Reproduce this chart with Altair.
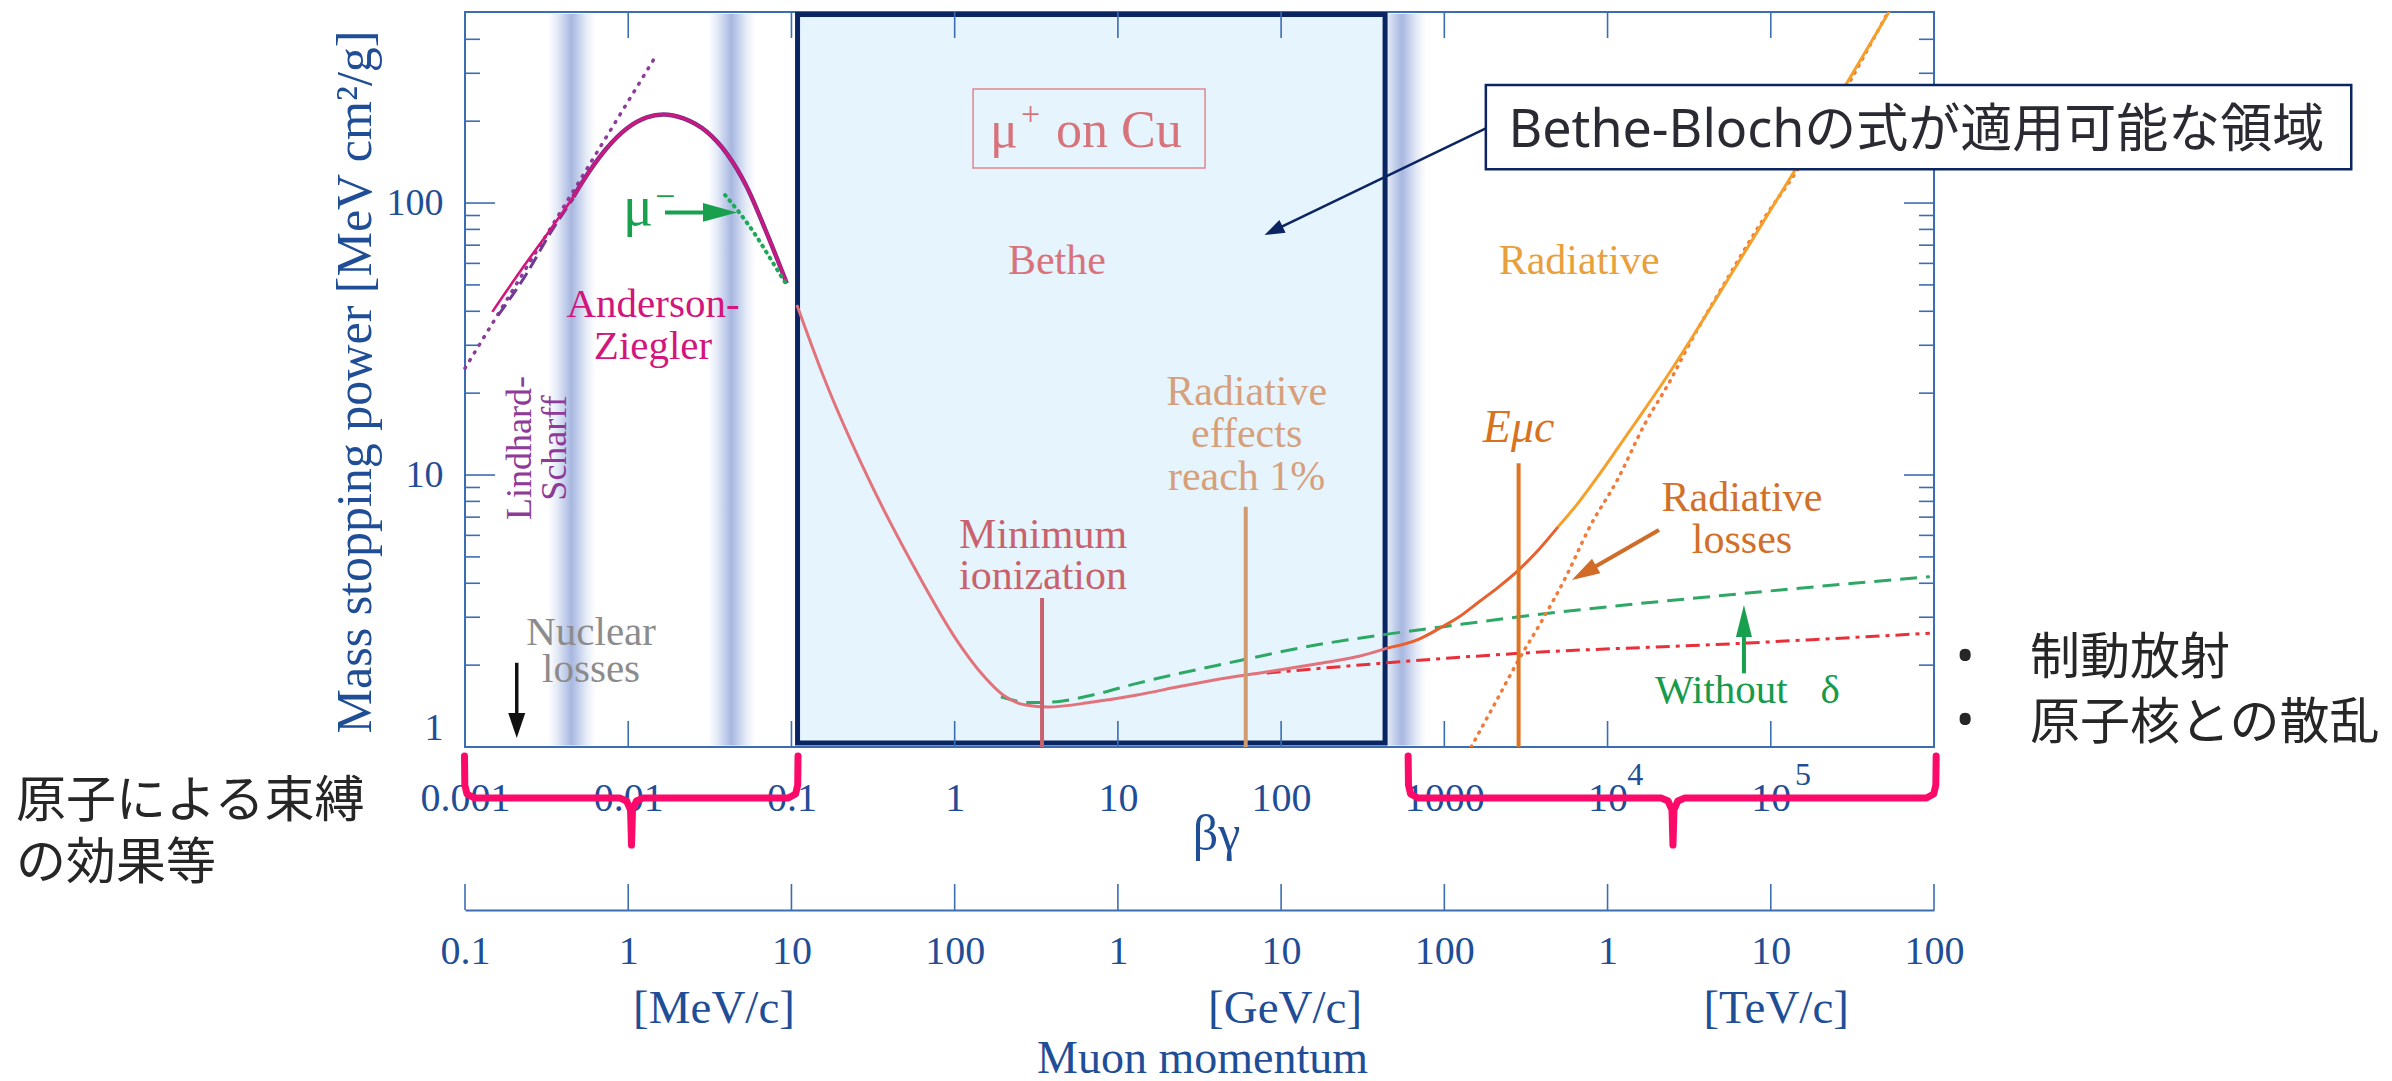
import math
import altair as alt
import pandas as pd

SERIF = "Liberation Serif"
CJK = "Noto Sans CJK JP"
SANSJ = "Noto Sans, Noto Sans CJK JP"
BLUE = "#1f4e97"
FRAME = "#3b6db3"
NAVY = "#0b2462"

W, H = 1469, 735
xs = alt.Scale(type="log", domain=[1e-3, 1e6], nice=False)
ys = alt.Scale(type="log", domain=[1.0, 504.0], nice=False)

# ---------------- data: beta*gamma and mass stopping power ----------------
AZ_BG = [0.00147, 0.00228, 0.00332, 0.00461, 0.00584, 0.00738, 0.0098, 0.01298, 0.0164, 0.0218, 0.0303, 0.0402, 0.0532, 0.0706, 0.0936]
AZ_S = [39.8, 58.3, 79.6, 105.5, 132, 159, 188, 206.6, 211.8, 204.8, 182.8, 152, 114.8, 77.5, 50.7]
LS_BG = [0.0016, 0.00239, 0.00332, 0.00461]
LS_S = [38.7, 55.1, 77.3, 104]
LSD_BG = [0.001, 0.01426]
LSD_S = [24.7, 335.6]
MUM_BG = [0.0392, 0.0484, 0.0612, 0.0774, 0.0936]
MUM_S = [107, 91.6, 75.2, 60, 50]
BETHE_BG = [0.108, 0.16, 0.299, 0.564, 1.058, 1.452, 1.98, 2.72, 3.73, 7.0, 13.1, 24.7, 46, 86.9, 163.7, 305, 446]
BETHE_S = [42.2, 22.4, 9.59, 4.59, 2.41, 1.87, 1.553, 1.426, 1.403, 1.463, 1.553, 1.675, 1.794, 1.90, 2.02, 2.16, 2.31]
TOT1_BG = [446, 706, 933, 1233, 1633, 2155, 2849, 3768, 4977]
TOT1_S = [2.31, 2.50, 2.73, 3.01, 3.42, 3.88, 4.47, 5.3, 6.45]
TOT2_BG = [4977, 6577, 8690, 11480, 15170, 22430, 64700, 153500, 531000]
TOT2_S = [6.45, 7.87, 9.86, 12.5, 15.9, 22.4, 61.7, 144, 505]
RAD_BG = [1459, 2042, 2851, 3983, 5564, 7780, 11480, 17000, 24380, 30300, 52100, 89500, 137800, 516000]
RAD_S = [1.0, 1.446, 2.09, 2.93, 4.23, 6.45, 9.59, 15.5, 22.4, 28.8, 50.7, 86.6, 126, 496]
NOD_BG = [1.92, 2.9, 4.23, 7.0, 13.1, 46.2, 163, 447, 989, 2850, 68500, 942000]
NOD_S = [1.53, 1.456, 1.468, 1.553, 1.714, 2.03, 2.37, 2.60, 2.77, 3.01, 3.67, 4.23]
ION_BG = [81.6, 447, 2851, 61400, 942000]
ION_S = [1.87, 2.04, 2.21, 2.40, 2.62]

# marker lines (beta*gamma, top value)
MIN_ION = (3.43, 3.53)
RAD_1PCT = (60.7, 7.65)
E_MUC = (2851, 11.04)

# shaded bands (beta*gamma ranges)
BANDS = [(0.00323, 0.00626), (0.03083, 0.05983), (392, 770)]
BETHE_BOX = (0.109, 433.5, 1.034, 493)
MU_BOX = (1.296, 34.2, 134.5, 262.5)
CALLOUT_BOX = (1796, 3.6e8, 133.0, 271.6)

# axis ticks
X_DECADES = [0.01, 0.1, 1, 10, 100, 1000, 1e4, 1e5]
X_LABELS = [0.001, 0.01, 0.1, 1, 10, 100, 1000, 1e4, 1e5]
Y_MAJOR = [10, 100]
Y_MINOR = [2, 3, 4, 5, 6, 7, 8, 9, 20, 30, 40, 50, 60, 70, 80, 90, 200, 300, 400]
M_TICKS = [0.001, 0.01, 0.1, 1, 10, 100, 1000, 1e4, 1e5, 1e6]

# bracket spans (start, end, centre) in beta*gamma
BRACKETS = [(0.000993, 0.10975, 0.010477), (600.2, 1.031e6, 25160)]
BRK_S = [0.927, 0.725, 0.672, 0.649, 0.649, 0.633, 0.587, 0.436, 0.587, 0.633, 0.649, 0.649, 0.672, 0.725, 0.927]


def X(axis=None):
    return alt.X("bg:Q", scale=xs, axis=axis)


def Y(axis=None):
    return alt.Y("S:Q", scale=ys, axis=axis)


def curve(bg, S, color, width=3.0, dash=None, cap="butt", clip=False, interp="monotone", ordered=False):
    props = dict(color=color, strokeWidth=width, clip=clip, interpolate=interp, strokeCap=cap, strokeJoin="round")
    if dash is not None:
        props["strokeDash"] = dash
    enc = dict(x=X(), y=Y())
    if ordered:
        enc["order"] = alt.Order("i:Q")
    d = pd.DataFrame({"bg": bg, "S": S, "i": list(range(len(bg)))})
    return alt.Chart(d).mark_line(**props).encode(**enc)


def label(bg, S, txt, color, size, align="center", baseline="alphabetic", angle=0, lh=None, font=SERIF, style="normal"):
    props = dict(color=color, fontSize=size, align=align, baseline=baseline, font=font, fontStyle=style, lineBreak="\n")
    if angle:
        props["angle"] = angle
    if lh:
        props["lineHeight"] = lh
    d = pd.DataFrame({"bg": [bg], "S": [S], "t": [txt]})
    return alt.Chart(d).mark_text(**props).encode(x=X(), y=Y(), text="t:N")


def box(b, fill, stroke, sw, fill_op=1.0):
    d = pd.DataFrame({"bg": [b[0]], "bg2": [b[1]], "S": [b[2]], "S2": [b[3]]})
    return alt.Chart(d).mark_rect(fill=fill, fillOpacity=fill_op, stroke=stroke, strokeWidth=sw).encode(
        x=X(), x2="bg2:Q", y=Y(), y2="S2:Q")


def head(bg, S, ratio, length, angle, color):
    path = "M-1,-%.2fL1,0L-1,%.2fZ" % (ratio, ratio)
    d = pd.DataFrame({"bg": [bg], "S": [S]})
    return alt.Chart(d).mark_point(shape=path, size=length * length, angle=angle, filled=True,
                                   color=color, opacity=1, strokeWidth=0).encode(x=X(), y=Y())


layers = []

# gradient bands
grad = {"gradient": "linear", "x1": 0, "x2": 1, "y1": 0, "y2": 0,
        "stops": [{"offset": 0, "color": "#ffffff"}, {"offset": 0.2, "color": "#e3e9f6"},
                  {"offset": 0.4, "color": "#bac7e8"}, {"offset": 0.5, "color": "#a8b7df"},
                  {"offset": 0.6, "color": "#bac7e8"}, {"offset": 0.8, "color": "#e3e9f6"},
                  {"offset": 1, "color": "#ffffff"}]}
band_df = pd.DataFrame({"bg": [b[0] for b in BANDS], "bg2": [b[1] for b in BANDS],
                        "S": [1.012] * 3, "S2": [497.0] * 3})
layers.append(alt.Chart(band_df).mark_rect(color=grad).encode(x=X(), x2="bg2:Q", y=Y(), y2="S2:Q"))

# Bethe region box
layers.append(box(BETHE_BOX, "#e6f5fd", NAVY, 5))
layers.append(box(MU_BOX, "#ffffff", "#e0868e", 1.5, fill_op=0))

# ---------------- axes + ticks ----------------
x_label_expr = ("datum.value < 0.005 ? '0.001' : datum.value < 0.05 ? '0.01' : datum.value < 0.5 ? '0.1' : "
                "datum.value < 5 ? '1' : datum.value < 50 ? '10' : datum.value < 500 ? '100' : "
                "datum.value < 5000 ? '1000' : '10'")
AX_MAIN = alt.Axis(orient="bottom", values=X_LABELS, labelExpr=x_label_expr, domain=False, ticks=False,
                   tickSize=0, grid=False, labelFont=SERIF, labelFontSize=40, labelColor=BLUE,
                   labelPadding=31, labelFlush=False, labelOverlap=False,
                   title="βγ", titleFont=SERIF, titleFontSize=50, titleFontWeight="normal",
                   titleColor=BLUE, titleX=751, titleY=102, titleAlign="center",
                   titleBaseline="alphabetic", titleAngle=0)
AY_MAIN = alt.Axis(orient="left", values=[1, 10, 100],
                   labelExpr="datum.value < 5 ? '1' : datum.value < 50 ? '10' : '100'",
                   domain=False, ticks=False, tickSize=0, grid=False, labelFont=SERIF, labelFontSize=38,
                   labelColor=BLUE, labelPadding=22, labelFlush=True,
                   title="Mass stopping power [MeV cm²/g]", titleFont=SERIF, titleFontSize=50,
                   titleFontWeight="normal", titleColor=BLUE, titleX=-95, titleY=369.5, titleAngle=270,
                   titleAlign="center", titleBaseline="alphabetic")

xt = pd.DataFrame({"bg": X_DECADES})
layers.append(alt.Chart(xt).mark_rule(color=FRAME, strokeWidth=1.6).encode(
    x=X(AX_MAIN), y=alt.value(H), y2=alt.value(H - 26)))
layers.append(alt.Chart(xt).mark_rule(color=FRAME, strokeWidth=1.6).encode(
    x=X(), y=alt.value(0), y2=alt.value(26)))
ymaj = pd.DataFrame({"S": Y_MAJOR})
ymin = pd.DataFrame({"S": Y_MINOR})
layers.append(alt.Chart(ymaj).mark_rule(color=FRAME, strokeWidth=1.6).encode(
    y=Y(AY_MAIN), x=alt.value(0), x2=alt.value(30)))
layers.append(alt.Chart(ymaj).mark_rule(color=FRAME, strokeWidth=1.6).encode(
    y=Y(), x=alt.value(W), x2=alt.value(W - 30)))
layers.append(alt.Chart(ymin).mark_rule(color=FRAME, strokeWidth=1.6).encode(
    y=Y(), x=alt.value(0), x2=alt.value(15)))
layers.append(alt.Chart(ymin).mark_rule(color=FRAME, strokeWidth=1.6).encode(
    y=Y(), x=alt.value(W), x2=alt.value(W - 15)))

# momentum axis (same positions, momentum labels), ticks pointing up
m_label_expr = ("datum.value < 0.005 ? '0.1' : datum.value < 0.05 ? '1' : datum.value < 0.5 ? '10' : "
                "datum.value < 5 ? '100' : datum.value < 50 ? '1' : datum.value < 500 ? '10' : "
                "datum.value < 5000 ? '100' : datum.value < 50000 ? '1' : datum.value < 500000 ? '10' : '100'")
AX_MOM = alt.Axis(orient="bottom", offset=163, values=M_TICKS, labelExpr=m_label_expr, domain=True,
                  domainColor=FRAME, domainWidth=2, ticks=False, tickSize=0, grid=False, labelFont=SERIF,
                  labelFontSize=40, labelColor=BLUE, labelPadding=21, labelFlush=False, labelOverlap=False,
                  title=None)
layers.append(alt.Chart(pd.DataFrame({"bg": M_TICKS})).mark_rule(color=FRAME, strokeWidth=1.6).encode(
    x=X(AX_MOM), y=alt.value(H + 137), y2=alt.value(H + 163)))

# ---------------- curves ----------------
layers.append(curve(LSD_BG, LSD_S, "#8b3d99", 3.5, dash=[1, 8], cap="round", interp="linear"))
layers.append(curve(LS_BG, LS_S, "#6f3a95", 3, dash=[13, 6]))
layers.append(curve(AZ_BG[3:], AZ_S[3:], "#7b2f8e", 4.5))
layers.append(curve(AZ_BG, AZ_S, "#d2167c", 2.6))
layers.append(curve(MUM_BG, MUM_S, "#1fa85a", 4, dash=[1, 6], cap="round"))
layers.append(curve(NOD_BG, NOD_S, "#2ea865", 3, dash=[17, 9]))
layers.append(curve(ION_BG, ION_S, "#e8303a", 3, dash=[14, 6, 4, 6]))
layers.append(curve(BETHE_BG, BETHE_S, "#e2737c", 3))
layers.append(curve(TOT1_BG, TOT1_S, "#e9602e", 3))
layers.append(curve(RAD_BG, RAD_S, "#f07b3a", 3.5, dash=[1, 7], cap="round", clip=True))
layers.append(curve(TOT2_BG, TOT2_S, "#f5a02a", 3, clip=True))

# vertical marker lines
for (bgv, top), col in [(MIN_ION, "#c9626e"), (RAD_1PCT, "#d09a6e"), (E_MUC, "#dc7424")]:
    layers.append(curve([bgv, bgv], [1.0, top], col, 4, interp="linear", ordered=True))

# ---------------- arrows ----------------
GREEN = "#19a04f"
layers.append(curve([0.0168, 0.03651], [92.4, 92.4], GREEN, 4, interp="linear"))
layers.append(head(0.03651, 92.4, 0.55, 34, 0, GREEN))
layers.append(curve([0.002075, 0.002075], [2.04, 1.2], "#111111", 3.5, interp="linear", ordered=True))
layers.append(head(0.002075, 1.2, 0.68, 25, 90, "#111111"))
layers.append(curve([68500, 68500], [1.866, 2.905], GREEN, 4, interp="linear", ordered=True))
layers.append(head(68500, 2.905, 0.5, 32, 270, GREEN))
layers.append(curve([20650, 7178], [6.28, 4.363], "#d06c28", 4, interp="linear", ordered=True))
layers.append(head(7178, 4.363, 0.6, 28, 150, "#d06c28"))

# ---------------- annotation texts ----------------
PINK = "#d8737b"
layers += [
    label(0.00929, 83.0, "μ", GREEN, 56, align="left"),
    label(0.01460, 105.5, "−", GREEN, 36, align="left", baseline="middle"),
    label(0.01419, 38.1, "Anderson-\nZiegler", "#d2167c", 41, lh=42),
    label(0.00217, 12.57, "Lindhard-\nScharff", "#8e3a98", 36, baseline="middle", angle=270, lh=35),
    label(0.00592, 2.37, "Nuclear\nlosses", "#8c8c8c", 41, lh=37),
    label(4.23, 54.8, "Bethe", PINK, 42),
    label(1.648, 161, "μ", PINK, 52, align="left"),
    label(2.553, 210.7, "+", PINK, 34, align="left", baseline="middle"),
    label(4.18, 161, "on Cu", PINK, 52, align="left"),
    label(6700, 54.8, "Radiative", "#e8a03c", 42),
    label(61.5, 18.1, "Radiative\neffects\nreach 1%", "#d6a07c", 42, lh=42.5),
    label(3.48, 5.38, "Minimum\nionization", "#c9626e", 42, lh=41),
    label(2851, 13.26, "Eμc", "#d9721f", 46, style="italic"),
    label(66600, 7.39, "Radiative\nlosses", "#d2702a", 42, lh=42.7),
    label(19520, 1.448, "Without", "#169a4c", 41, align="left"),
    label(231000, 1.448, "δ", "#169a4c", 41),
    label(14760, 0.725, "4", BLUE, 32),
    label(157500, 0.725, "5", BLUE, 32),
    label(0.03355, 0.0966, "[MeV/c]", BLUE, 47),
    label(105.8, 0.0966, "[GeV/c]", BLUE, 47),
    label(107900, 0.0966, "[TeV/c]", BLUE, 47),
    label(33.0, 0.0633, "Muon momentum", BLUE, 46),
]

# ---------------- callout ----------------
layers.append(curve([1796, 89.85], [188.2, 79.1], NAVY, 2.5, interp="linear", ordered=True))
layers.append(head(89.85, 79.1, 0.7, 20, 154, NAVY))
layers.append(box(CALLOUT_BOX, "#ffffff", NAVY, 2.5))
layers.append(label(2472, 160.3, "Bethe-Blochの式が適用可能な領域", "#2a2a33", 52, align="left", font=SANSJ))

# ---------------- brackets ----------------
OFF = [0, 0.002, 0.015, 0.06, -0.07, -0.03, -0.006, 0, 0.006, 0.03, 0.07, -0.06, -0.015, -0.002, 0]
for a, b, c in BRACKETS:
    la, lb, lc = math.log10(a), math.log10(b), math.log10(c)
    base = [la] * 4 + [lc] * 7 + [lb] * 4
    bx = [10 ** (base[k] + OFF[k]) for k in range(15)]
    layers.append(curve(bx, BRK_S, "#fb0a6a", 7, interp="linear", ordered=True, cap="round"))

# ---------------- Japanese side notes ----------------
DARK = "#262626"
layers += [
    label(1.774e-6, 0.553, "原子による束縛\nの効果等", DARK, 50, align="left", lh=62, font=CJK),
    label(1.552e6, 2.124, "•", DARK, 50, baseline="middle", font=SANSJ),
    label(1.552e6, 1.236, "•", DARK, 50, baseline="middle", font=SANSJ),
    label(3.88e6, 1.855, "制動放射", DARK, 50, align="left", font=CJK),
    label(3.88e6, 1.07, "原子核との散乱", DARK, 50, align="left", font=CJK),
]

chart = alt.layer(*layers).resolve_axis(x="independent", y="independent").properties(
    width=W, height=H,
    padding={"left": 457, "top": 4, "right": 450, "bottom": 338},
    autosize=alt.AutoSizeParams(type="none"),
).configure_view(stroke=FRAME, strokeWidth=2)

chart.save("out.html", embed_options={"renderer": "svg", "actions": False})
